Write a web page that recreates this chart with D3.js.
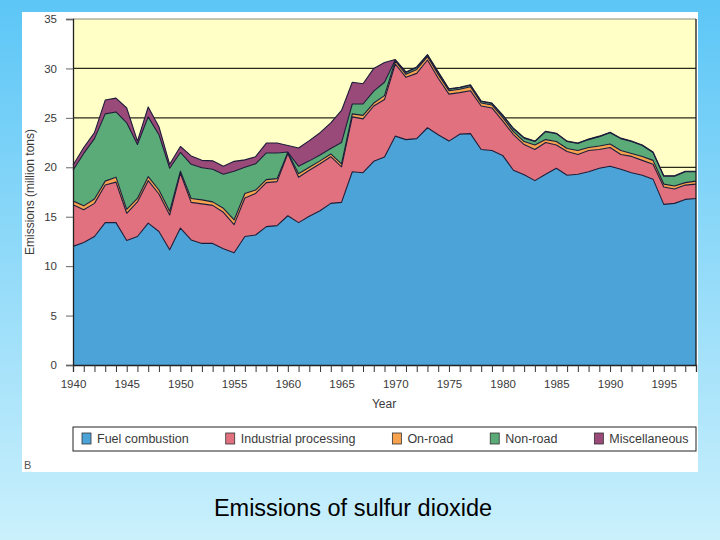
<!DOCTYPE html>
<html>
<head>
<meta charset="utf-8">
<script src="https://cdn.jsdelivr.net/npm/d3@7"></script>
<style>
  body { margin: 0; }
  svg { display: block; font-family: "Liberation Sans", Arial, sans-serif; }
</style>
</head>
<body>
<script>
// Sulfur dioxide emissions by source (million tons)
const years = [1940, 1941, 1942, 1943, 1944, 1945, 1946, 1947, 1948, 1949,
  1950, 1951, 1952, 1953, 1954, 1955, 1956, 1957, 1958, 1959,
  1960, 1961, 1962, 1963, 1964, 1965, 1966, 1967, 1968, 1969,
  1970, 1971, 1972, 1973, 1974, 1975, 1976, 1977, 1978, 1979,
  1980, 1981, 1982, 1983, 1984, 1985, 1986, 1987, 1988, 1989,
  1990, 1991, 1992, 1993, 1994, 1995, 1996, 1997, 1998];

const fuelCombustion = [12.0, 12.4, 13.0, 14.4, 14.4, 12.6, 13.0, 14.35, 13.5, 11.65,
  13.85, 12.65, 12.3, 12.3, 11.75, 11.36, 13.0, 13.15, 14.0, 14.1,
  15.1, 14.4, 15.05, 15.6, 16.35, 16.45, 19.55, 19.45, 20.6, 21.05,
  23.15, 22.8, 22.9, 24.0, 23.3, 22.65, 23.35, 23.4, 21.8, 21.7,
  21.2, 19.7, 19.25, 18.65, 19.3, 19.9, 19.2, 19.3, 19.55, 19.9,
  20.1, 19.8, 19.45, 19.2, 18.8, 16.25, 16.35, 16.75, 16.85];

const industrialProcessing = [4.2, 3.3, 3.35, 3.8, 4.1, 2.75, 3.5, 4.3, 3.8, 3.52,
  5.55, 3.8, 4.0, 3.85, 3.7, 2.84, 3.9, 4.2, 4.45, 4.45,
  6.3, 4.6, 4.65, 4.75, 4.72, 3.6, 5.55, 5.45, 5.6, 5.8,
  7.3, 6.3, 6.6, 6.85, 5.7, 4.75, 4.2, 4.35, 4.4, 4.3,
  3.5, 3.6, 3.05, 3.15, 3.2, 2.35, 2.4, 2.0, 2.15, 1.9,
  1.9, 1.5, 1.65, 1.5, 1.5, 1.75, 1.45, 1.45, 1.45];

const onRoad = [0.4, 0.4, 0.45, 0.4, 0.5, 0.4, 0.35, 0.4, 0.4, 0.38,
  0.2, 0.4, 0.4, 0.35, 0.4, 0.47, 0.45, 0.35, 0.3, 0.3,
  0.1, 0.35, 0.3, 0.3, 0.28, 0.3, 0.3, 0.35, 0.3, 0.4,
  0.3, 0.3, 0.4, 0.35, 0.4, 0.35, 0.35, 0.4, 0.3, 0.3,
  0.35, 0.3, 0.3, 0.45, 0.3, 0.35, 0.3, 0.4, 0.3, 0.35,
  0.35, 0.4, 0.3, 0.4, 0.4, 0.3, 0.3, 0.25, 0.3];

const nonRoad = [3.1, 5.3, 6.1, 6.8, 6.6, 8.75, 5.45, 6.05, 5.6, 4.35,
  1.9, 3.45, 3.25, 3.3, 3.45, 4.93, 2.65, 2.65, 2.7, 2.6,
  0.05, 0.75, 0.65, 0.6, 0.55, 2.15, 1.0, 1.15, 1.2, 1.35,
  0.1, 0.2, 0.2, 0.15, 0.2, 0.15, 0.15, 0.15, 0.15, 0.15,
  0.2, 0.3, 0.35, 0.35, 0.8, 0.8, 0.7, 0.7, 0.8, 0.95,
  1.15, 1.2, 1.2, 1.1, 0.8, 0.8, 1.0, 1.1, 0.95];

const miscellaneous = [0.5, 0.6, 0.6, 1.4, 1.4, 1.5, 0.35, 1.0, 0.8, 0.4,
  0.6, 0.85, 0.75, 0.85, 0.8, 1.0, 0.75, 0.72, 1.0, 1.0,
  0.65, 1.85, 2.05, 2.25, 2.6, 3.25, 2.2, 2.05, 2.3, 2.0,
  0.05, 0.05, 0.05, 0.05, 0.05, 0.05, 0.05, 0.05, 0.05, 0.05,
  0.05, 0.05, 0.05, 0.05, 0.05, 0.05, 0.05, 0.05, 0.05, 0.05,
  0.05, 0.05, 0.05, 0.05, 0.05, 0.05, 0.05, 0.05, 0.05];

const seriesNames = ["Fuel combustion", "Industrial processing", "On-road", "Non-road", "Miscellaneous"];
const yTickValues = [0, 5, 10, 15, 20, 25, 30, 35];
const xLabelYears = [1940, 1945, 1950, 1955, 1960, 1965, 1970, 1975, 1980, 1985, 1990, 1995];

const colors = ["#4ca3d8", "#e2717f", "#f6a24f", "#5aab77", "#9a4a79"];
const lineColor = "#1d1d3a";

const width = 720, height = 540;
const plot = { left: 73, right: 696, top: 19, bottom: 365 };

// rows for the stack layout
const allSeries = [fuelCombustion, industrialProcessing, onRoad, nonRoad, miscellaneous];
const rows = years.map((yr, i) => {
  const row = { year: yr };
  seriesNames.forEach((name, k) => row[name] = allSeries[k][i]);
  return row;
});
const stacked = d3.stack().keys(seriesNames)(rows);

const svg = d3.select("body")
  .append("svg")
  .attr("width", width)
  .attr("height", height);

// page background: light-blue gradient
const grad = svg.append("defs").append("linearGradient")
  .attr("id", "bg").attr("x1", 0).attr("y1", 0).attr("x2", 0).attr("y2", 1);
grad.append("stop").attr("offset", "0%").attr("stop-color", "#5cc6f6");
grad.append("stop").attr("offset", "100%").attr("stop-color", "#caf0fc");
svg.append("rect").attr("width", width).attr("height", height).attr("fill", "url(#bg)");

// white figure panel
svg.append("rect")
  .attr("x", 22).attr("y", 12).attr("width", 676).attr("height", 460)
  .attr("fill", "#ffffff");

// plot background
svg.append("rect")
  .attr("x", plot.left).attr("y", plot.top)
  .attr("width", plot.right - plot.left).attr("height", plot.bottom - plot.top)
  .attr("fill", "#ffffc6");

const x = d3.scaleLinear().domain([1940, 1998]).range([plot.left, plot.right]);
const y = d3.scaleLinear().domain([0, 35]).range([plot.bottom, plot.top]);

// horizontal grid lines (the data covers the lower ones)
svg.append("g")
  .selectAll("line")
  .data(yTickValues.slice(1, -1))
  .enter()
  .append("line")
  .attr("x1", plot.left).attr("x2", plot.right)
  .attr("y1", d => y(d)).attr("y2", d => y(d))
  .attr("stroke", "#2a2a1a").attr("stroke-width", 1.2);

// top frame line
svg.append("line")
  .attr("x1", plot.left).attr("x2", plot.right)
  .attr("y1", plot.top).attr("y2", plot.top)
  .attr("stroke", "#8a8a80").attr("stroke-width", 1);

// stacked areas
const area = d3.area()
  .x(d => x(d.data.year))
  .y0(d => y(d[0]))
  .y1(d => y(d[1]));

svg.append("g")
  .selectAll("path")
  .data(stacked)
  .enter()
  .append("path")
  .attr("d", area)
  .attr("fill", (d, i) => colors[i]);

// dark outlines on every layer top
const topLine = d3.line()
  .x(d => x(d.data.year))
  .y(d => y(d[1]));

svg.append("g")
  .selectAll("path")
  .data(stacked)
  .enter()
  .append("path")
  .attr("d", topLine)
  .attr("fill", "none")
  .attr("stroke", lineColor)
  .attr("stroke-width", 1.1)
  .attr("stroke-linejoin", "round");

// right frame line
svg.append("line")
  .attr("x1", plot.right).attr("x2", plot.right)
  .attr("y1", plot.top).attr("y2", plot.bottom)
  .attr("stroke", "#1a1a1a").attr("stroke-width", 1.3);

// Y axis
const yAxis = svg.append("g")
  .attr("transform", `translate(${plot.left},0)`)
  .call(d3.axisLeft(y).tickValues(yTickValues).tickSize(7).tickPadding(9));
yAxis.select(".domain").attr("stroke", "#222").attr("stroke-width", 1.3);
yAxis.selectAll(".tick line").attr("stroke", "#666");
yAxis.selectAll("text")
  .style("font-size", "11.5px")
  .style("font-family", "'Liberation Sans', Arial, sans-serif")
  .attr("fill", "#3a3a3a");

// X axis: a tick every year, a label every 5 years
const xAxis = svg.append("g")
  .attr("transform", `translate(0,${plot.bottom})`)
  .call(d3.axisBottom(x)
    .tickValues(years)
    .tickSize(7)
    .tickPadding(8)
    .tickFormat(d => xLabelYears.includes(d) ? String(d) : ""));
xAxis.select(".domain").attr("stroke", "#222").attr("stroke-width", 1.3);
xAxis.selectAll(".tick line").attr("stroke", "#333");
xAxis.selectAll("text")
  .style("font-size", "11.5px")
  .style("font-family", "'Liberation Sans', Arial, sans-serif")
  .attr("fill", "#3a3a3a");

// axis titles
svg.append("text")
  .attr("transform", "translate(34,192) rotate(-90)")
  .attr("text-anchor", "middle")
  .style("font-size", "12px")
  .attr("fill", "#3a3a3a")
  .text("Emissions (million tons)");

svg.append("text")
  .attr("x", 384).attr("y", 408)
  .attr("text-anchor", "middle")
  .style("font-size", "12px")
  .attr("fill", "#3a3a3a")
  .text("Year");

// legend
svg.append("rect")
  .attr("x", plot.left).attr("y", 427)
  .attr("width", plot.right - plot.left).attr("height", 24)
  .attr("fill", "#fff").attr("stroke", "#222").attr("stroke-width", 1);

let lx = 82;
seriesNames.forEach((name, i) => {
  svg.append("rect")
    .attr("x", lx).attr("y", 433)
    .attr("width", 9).attr("height", 11)
    .attr("fill", colors[i])
    .attr("stroke", "#333").attr("stroke-width", 0.8);
  const t = svg.append("text")
    .attr("x", lx + 15).attr("y", 443)
    .style("font-size", "12.5px")
    .attr("fill", "#3a3a3a")
    .text(name);
  lx += 15 + t.node().getComputedTextLength() + 37;
});

// panel letter
svg.append("text")
  .attr("x", 24).attr("y", 469)
  .style("font-size", "11px")
  .attr("fill", "#555")
  .text("B");

// caption
svg.append("text")
  .attr("x", 353).attr("y", 516)
  .attr("text-anchor", "middle")
  .style("font-size", "23.5px")
  .attr("fill", "#000")
  .text("Emissions of sulfur dioxide");
</script>
</body>
</html>
